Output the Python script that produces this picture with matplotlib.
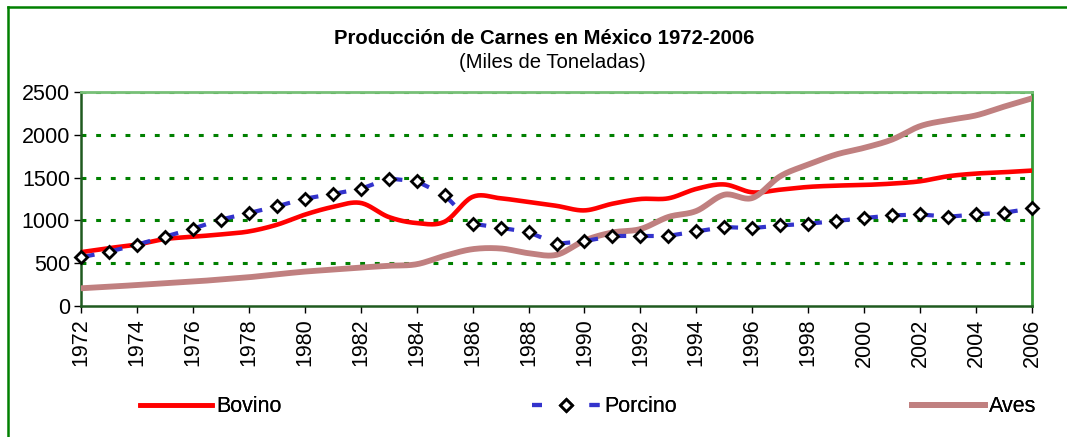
import numpy as np
import matplotlib.pyplot as plt
from matplotlib.collections import LineCollection
from matplotlib.lines import Line2D

plt.rcParams['font.family'] = ['Liberation Sans', 'DejaVu Sans']

# ---- data (miles de toneladas) ----
years = list(range(1972, 2007))
bovino = [629, 676, 718, 782, 809, 836, 871, 949, 1067, 1157, 1204, 1040, 969, 985,
          1275, 1258, 1215, 1170, 1117, 1195, 1250, 1258, 1368, 1420, 1328, 1359, 1391,
          1406, 1414, 1430, 1457, 1516, 1547, 1563, 1582]
porcino = [569, 634, 716, 810, 903, 1010, 1086, 1164, 1254, 1309, 1368, 1489, 1457, 1297,
           961, 914, 863, 727, 758, 817, 820, 820, 871, 922, 910, 941, 961,
           993, 1028, 1058, 1070, 1043, 1070, 1090, 1140]
aves = [207, 225, 245, 265, 285, 310, 336, 370, 402, 425, 449, 470, 488, 586,
        664, 672, 617, 598, 765, 859, 899, 1040, 1110, 1300, 1262, 1516, 1652,
        1770, 1848, 1945, 2101, 2172, 2227, 2329, 2426]


def smooth(x, y, n=20):
    # catmull-rom, like excel's "smoothed line"
    x = np.asarray(x, float)
    y = np.asarray(y, float)
    px = np.concatenate([[2 * x[0] - x[1]], x, [2 * x[-1] - x[-2]]])
    py = np.concatenate([[2 * y[0] - y[1]], y, [2 * y[-1] - y[-2]]])
    t = np.linspace(0, 1, n, endpoint=False)
    xs, ys = [], []
    for i in range(1, len(px) - 2):
        for p, out in ((px, xs), (py, ys)):
            p0, p1, p2, p3 = p[i - 1], p[i], p[i + 1], p[i + 2]
            out.extend(0.5 * (2 * p1 + (-p0 + p2) * t
                              + (2 * p0 - 5 * p1 + 4 * p2 - p3) * t ** 2
                              + (-p0 + 3 * p1 - 3 * p2 + p3) * t ** 3))
    xs.append(x[-1])
    ys.append(y[-1])
    return np.array(xs), np.array(ys)


fig = plt.figure(figsize=(10.67, 4.37), dpi=100)
ax = fig.add_axes([81 / 1067, 1 - 306 / 437, (1032 - 81) / 1067, (306 - 92) / 437])

red = '#ff0000'
rose = '#c08080'
blue = '#3333cc'
fs = 15.5

bx, by = smooth(years, bovino)
ax.plot(bx, by, color=red, lw=3.3, zorder=3, solid_capstyle='round')
axx, ayy = smooth(years, aves)
ax.plot(axx, ayy, color=rose, lw=4.2, zorder=4)

# porcino: dash restarts after every marker
segs = [[(years[i], porcino[i]), (years[i + 1], porcino[i + 1])] for i in range(len(years) - 1)]
lc = LineCollection(segs, colors=blue, linewidths=3.0, linestyles=[(0, (3.3, 8))], zorder=5,
                    capstyle='butt')
ax.add_collection(lc)
ax.plot(years, porcino, ls='none', marker='D', ms=6, mfc='white', mec='black', mew=2,
        zorder=6, clip_on=False)

ax.set_xlim(1972, 2006)
ax.set_ylim(0, 2500)
ax.set_xticks(range(1972, 2007, 2))
ax.set_yticks(range(0, 2501, 500))
ax.tick_params(axis='x', labelrotation=90, labelsize=fs, length=5, width=1, pad=4)
ax.tick_params(axis='y', labelsize=fs, length=5, width=1, pad=3)

for yv in [500, 1000, 1500, 2000, 2500]:
    ax.axhline(yv, color='#008000', lw=2.2, ls=(0, (1.6, 3.2)), zorder=2)

ax.spines['left'].set_color('#1f5a1f')
ax.spines['bottom'].set_color('#1f5a1f')
ax.spines['left'].set_linewidth(1.8)
ax.spines['bottom'].set_linewidth(1.8)
ax.spines['top'].set_color('#77c077')
ax.spines['top'].set_linewidth(2)
ax.spines['right'].set_color('#339933')
ax.spines['right'].set_linewidth(2)

fig.text(0.51, 1 - 38 / 437, 'Producción de Carnes en México 1972-2006', ha='center', va='center',
         fontsize=14.6, fontweight='bold')
fig.text(0.518, 1 - 62 / 437, '(Miles de Toneladas)', ha='center', va='center', fontsize=14.6)

# outer chart frame
fig.add_artist(Line2D([8 / 1067, 8 / 1067], [0, 1 - 7 / 437], color='#008000', lw=1.8))
fig.add_artist(Line2D([8 / 1067, 1], [1 - 7 / 437, 1 - 7 / 437], color='#008000', lw=1.8))

# legend, spread out like excel
ly = 1 - 407 / 437
h_bov = Line2D([], [], color=red, lw=3.3)
h_por = Line2D([], [], color=blue, lw=3.0, ls=(0, (2.4, 11.4)), marker='D', ms=6,
               mfc='white', mec='black', mew=2)
h_ave = Line2D([], [], color=rose, lw=4.2)
for h, lab, x0, px_len in [(h_bov, 'Bovino', 140, 72), (h_por, 'Porcino', 532, 68),
                           (h_ave, 'Aves', 912, 73)]:
    lg = fig.legend([h], [lab], loc='center left', bbox_to_anchor=(x0 / 1067, ly), frameon=False,
                    fontsize=fs, handlelength=px_len / (fs * 100 / 72), handletextpad=0.2,
                    borderpad=0, borderaxespad=0, numpoints=1)
    fig.add_artist(lg)

fig.savefig('out.png', dpi=100)
